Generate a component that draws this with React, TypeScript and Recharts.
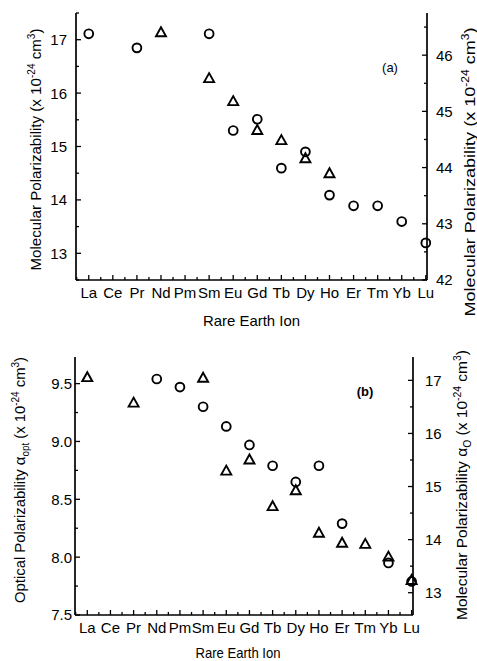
import React from 'react';
import { ScatterChart, Scatter, XAxis, YAxis } from 'recharts';

const FONT = '"Liberation Sans", Arial, Helvetica, sans-serif';

const categories = ['La', 'Ce', 'Pr', 'Nd', 'Pm', 'Sm', 'Eu', 'Gd', 'Tb', 'Dy', 'Ho', 'Er', 'Tm', 'Yb', 'Lu'];

// Panel (a)
const aTriangles = [null, null, null, 17.14, null, 16.28, 15.85, 15.31, 15.12, 14.78, 14.5, null, null, null, null];
const aCircles = [46.38, null, 46.13, null, null, 46.38, 44.66, 44.86, 43.99, 44.28, 43.51, 43.32, 43.32, 43.04, 42.66];
// Panel (b)
const bCircles = [null, null, null, 9.54, 9.47, 9.3, 9.13, 8.97, 8.79, 8.65, 8.79, 8.29, null, 7.95, 7.79];
const bTriangles = [17.06, null, 16.58, null, null, 17.05, 15.3, 15.51, 14.63, 14.93, 14.13, 13.94, 13.92, 13.68, 13.24];

const xMajorTicks = [0, 1, 2, 3, 4, 5, 6, 7, 8, 9, 10, 11, 12, 13, 14];
const xMinorTicks = [-0.5, 0.5, 1.5, 2.5, 3.5, 4.5, 5.5, 6.5, 7.5, 8.5, 9.5, 10.5, 11.5, 12.5, 13.5];

const aLeftMajor = [13, 14, 15, 16, 17];
const aLeftMinor = [12.5, 13.5, 14.5, 15.5, 16.5, 17.5];
const aRightMajor = [42, 43, 44, 45, 46];
const aRightMinor = [42.5, 43.5, 44.5, 45.5, 46.5];
const bLeftMajor = [7.5, 8.0, 8.5, 9.0, 9.5];
const bLeftMinor = [7.75, 8.25, 8.75, 9.25];
const bRightMajor = [13, 14, 15, 16, 17];
const bRightMinor = [13.5, 14.5, 15.5, 16.5];

const toData = (arr: (number | null)[]) =>
  arr.map((v, i) => (v == null ? null : { x: i, y: v })).filter(Boolean) as { x: number; y: number }[];

const sortAll = (a: number[], b: number[]) => [...a, ...b].sort((p, q) => p - q);

const CircleShape = (p: any) => (
  <circle cx={p.cx} cy={p.cy} r={4.4} fill="none" stroke="#000" strokeWidth={1.9} />
);
const TriangleShape = (p: any) => (
  <polygon
    points={`${p.cx},${p.cy - 5} ${p.cx - 5},${p.cy + 4} ${p.cx + 5},${p.cy + 4}`}
    fill="none"
    stroke="#000"
    strokeWidth={1.9}
    strokeLinejoin="miter"
  />
);

const makeXTick = (side: 'bottom' | 'top', labelDy: number) => (p: any) => {
  const v = p.payload.value;
  const major = xMajorTicks.includes(v);
  const len = major ? 5 : 3;
  const dir = side === 'bottom' ? -1 : 1;
  return (
    <g>
      <line x1={p.x} x2={p.x} y1={p.y} y2={p.y + dir * len} stroke="#000" strokeWidth={1.3} />
      {side === 'bottom' && major ? (
        <text x={p.x} y={p.y + labelDy} textAnchor="middle" fontFamily={FONT} fontSize={15} fill="#000">
          {categories[v]}
        </text>
      ) : null}
    </g>
  );
};

const makeYTick = (side: 'left' | 'right', majors: number[], gap: number, digits: number) => (p: any) => {
  const v = p.payload.value;
  const major = majors.includes(v);
  const len = major ? 5 : 3;
  const dir = side === 'left' ? 1 : -1;
  return (
    <g>
      <line x1={p.x} x2={p.x + dir * len} y1={p.y} y2={p.y} stroke="#000" strokeWidth={1.3} />
      {major ? (
        <text
          x={side === 'left' ? p.x - gap : p.x + gap}
          y={p.y}
          dy="0.36em"
          textAnchor={side === 'left' ? 'end' : 'start'}
          fontFamily={FONT}
          fontSize={15}
          fill="#000"
        >
          {v.toFixed(digits)}
        </text>
      ) : null}
    </g>
  );
};

const Title = ({ x, y, len, children, size = 15 }: any) => (
  <text
    x={x}
    y={y}
    transform={`rotate(-90, ${x}, ${y})`}
    textAnchor="middle"
    fontFamily={FONT}
    fontSize={size}
    fill="#000"
    textLength={len}
    lengthAdjust="spacingAndGlyphs"
  >
    {children}
  </text>
);

const unitTail = [
  <tspan key="a" dy={-6} fontSize={10}>-24</tspan>,
  <tspan key="b" dy={6}> cm</tspan>,
  <tspan key="c" dy={-6} fontSize={10}>3</tspan>,
  <tspan key="d" dy={6}>)</tspan>,
];

const axisLine = { stroke: '#000', strokeWidth: 1.7 };

const ChartA = () => (
  <ScatterChart width={477} height={330} margin={{ top: 13, right: 10, bottom: 0, left: 16 }}>
    <XAxis
      xAxisId="xb"
      dataKey="x"
      type="number"
      domain={[-0.53, 14.05]}
      ticks={sortAll(xMajorTicks, xMinorTicks)}
      interval={0}
      tickSize={0}
      tickMargin={0}
      tickLine={false}
      height={50}
      axisLine={axisLine}
      tick={makeXTick('bottom', 18)}
      label={(lp: any) => {
        const vb = lp.viewBox;
        return (
          <text x={vb.x + vb.width / 2} y={vb.y + 46} textAnchor="middle" fontFamily={FONT} fontSize={15} fill="#000" textLength={97} lengthAdjust="spacingAndGlyphs">
            Rare Earth Ion
          </text>
        );
      }}
    />
    <XAxis
      xAxisId="xt"
      orientation="top"
      dataKey="x"
      type="number"
      domain={[-0.53, 14.05]}
      ticks={sortAll(xMajorTicks, xMinorTicks)}
      interval={0}
      tickSize={0}
      tickMargin={0}
      tickLine={false}
      height={0}
      axisLine={axisLine}
      tick={makeXTick('top', 0)}
    />
    <YAxis
      yAxisId="yl"
      dataKey="y"
      type="number"
      domain={[12.5, 17.5]}
      ticks={sortAll(aLeftMajor, aLeftMinor)}
      interval={0}
      tickSize={0}
      tickMargin={0}
      tickLine={false}
      width={60}
      axisLine={axisLine}
      tick={makeYTick('left', aLeftMajor, 9, 0)}
      label={(lp: any) => {
        const vb = lp.viewBox;
        return (
          <Title x={41} y={vb.y + vb.height / 2 + 3} len={242}>
            Molecular Polarizability (x 10{unitTail}
          </Title>
        );
      }}
    />
    <YAxis
      yAxisId="yr"
      orientation="right"
      dataKey="y"
      type="number"
      domain={[42, 46.75]}
      ticks={sortAll(aRightMajor, aRightMinor)}
      interval={0}
      tickSize={0}
      tickMargin={0}
      tickLine={false}
      width={40}
      axisLine={axisLine}
      tick={makeYTick('right', aRightMajor, 9, 0)}
      label={(lp: any) => {
        const vb = lp.viewBox;
        return (
          <g>
            <text x={vb.x - 37} y={vb.y + 59} textAnchor="middle" fontFamily={FONT} fontSize={13} fill="#000">
              (a)
            </text>
            <Title x={475} y={172} len={289}>
              Molecular Polarizability (x 10{unitTail}
            </Title>
          </g>
        );
      }}
    />
    <Scatter xAxisId="xt" yAxisId="yl" data={toData(aTriangles)} shape={TriangleShape} isAnimationActive={false} />
    <Scatter xAxisId="xb" yAxisId="yr" data={toData(aCircles)} shape={CircleShape} isAnimationActive={false} />
  </ScatterChart>
);

const ChartB = () => (
  <ScatterChart width={477} height={331} margin={{ top: 27, right: 24, bottom: 0, left: 15 }}>
    <XAxis
      xAxisId="xb"
      dataKey="x"
      type="number"
      domain={[-0.53, 14.06]}
      ticks={sortAll(xMajorTicks, xMinorTicks)}
      interval={0}
      tickSize={0}
      tickMargin={0}
      tickLine={false}
      height={46}
      axisLine={axisLine}
      tick={makeXTick('bottom', 18)}
      label={(lp: any) => {
        const vb = lp.viewBox;
        return (
          <text x={vb.x + vb.width / 2 - 6} y={vb.y + 43} textAnchor="middle" fontFamily={FONT} fontSize={15} fill="#000" textLength={85} lengthAdjust="spacingAndGlyphs">
            Rare Earth Ion
          </text>
        );
      }}
    />
    <XAxis
      xAxisId="xt"
      orientation="top"
      dataKey="x"
      type="number"
      domain={[-0.53, 14.06]}
      ticks={sortAll(xMajorTicks, xMinorTicks)}
      interval={0}
      tickSize={0}
      tickMargin={0}
      tickLine={false}
      height={0}
      axisLine={axisLine}
      tick={makeXTick('top', 0)}
    />
    <YAxis
      yAxisId="yl"
      dataKey="y"
      type="number"
      domain={[7.5, 9.73]}
      ticks={sortAll(bLeftMajor, bLeftMinor)}
      interval={0}
      tickSize={0}
      tickMargin={0}
      tickLine={false}
      width={60}
      axisLine={axisLine}
      tick={makeYTick('left', bLeftMajor, 3, 1)}
      label={() => (
        <Title x={25} y={150} len={246}>
          Optical Polarizability α<tspan dy={4} fontSize={10}>opt</tspan>
          <tspan dy={-4}> (x 10</tspan>
          {unitTail}
        </Title>
      )}
    />
    <YAxis
      yAxisId="yr"
      orientation="right"
      dataKey="y"
      type="number"
      domain={[12.58, 17.44]}
      ticks={sortAll(bRightMajor, bRightMinor)}
      interval={0}
      tickSize={0}
      tickMargin={0}
      tickLine={false}
      width={40}
      axisLine={axisLine}
      tick={makeYTick('right', bRightMajor, 12, 0)}
      label={(lp: any) => {
        const vb = lp.viewBox;
        return (
          <g>
            <text x={vb.x - 48} y={vb.y + 39} textAnchor="middle" fontFamily={FONT} fontSize={13} fontWeight="bold" fill="#000">
              (b)
            </text>
            <Title x={467} y={155} len={270}>
              Molecular Polarizability α<tspan dy={4} fontSize={10}>O</tspan>
              <tspan dy={-4}> (x 10</tspan>
              {unitTail}
            </Title>
          </g>
        );
      }}
    />
    <Scatter xAxisId="xb" yAxisId="yl" data={toData(bCircles)} shape={CircleShape} isAnimationActive={false} />
    <Scatter xAxisId="xt" yAxisId="yr" data={toData(bTriangles)} shape={TriangleShape} isAnimationActive={false} />
  </ScatterChart>
);

export default function App() {
  return (
    <div style={{ position: 'absolute', left: 0, top: 0, width: 477, height: 661, background: '#fff' }}>
      <div style={{ position: 'absolute', left: 0, top: 0 }}>
        <ChartA />
      </div>
      <div style={{ position: 'absolute', left: 0, top: 330 }}>
        <ChartB />
      </div>
    </div>
  );
}
